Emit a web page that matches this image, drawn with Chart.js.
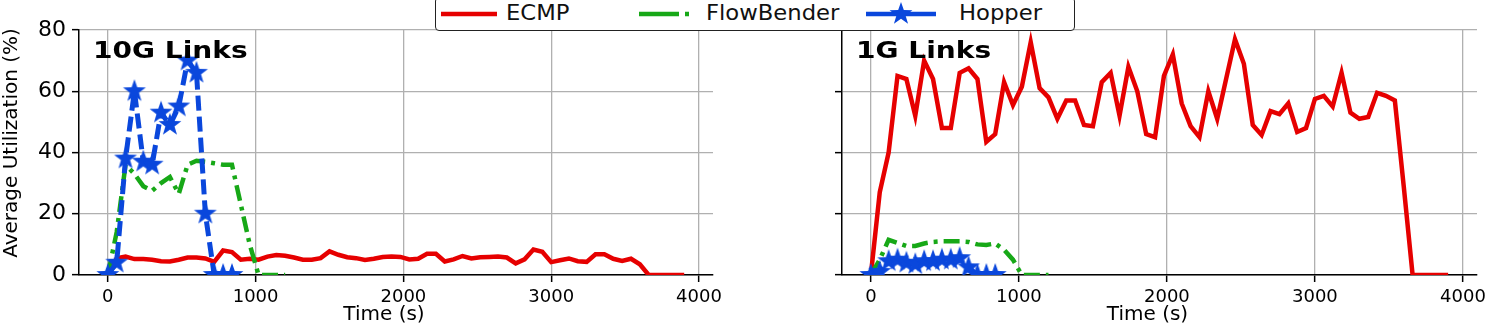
<!DOCTYPE html>
<html>
<head>
<meta charset="utf-8">
<script src="https://cdn.jsdelivr.net/npm/chart.js@4.4.1/dist/chart.umd.min.js"></script>
<style>
  body { margin: 0; background: #fff; width: 1495px; height: 327px; overflow: hidden; position: relative; font-family: 'DejaVu Sans', sans-serif; }
  canvas.plot { position: absolute; top: 0; }
  #legend { position: absolute; left: 435px; top: -3px; width: 638px; height: 32px; border: 1.3px solid #222; border-radius: 4px; background: #fff; }
  #legend canvas { position: absolute; }
  #legend span { position: absolute; top: 3px; font-size: 21px; color: #111; white-space: nowrap; transform-origin: left center; transform: scaleX(1.08); }
</style>
</head>
<body>
<canvas id="left" class="plot" width="730" height="327" style="left:0"></canvas>
<canvas id="right" class="plot" width="735" height="327" style="left:760px"></canvas>
<div id="legend">
  <canvas id="lgEcmp" width="56" height="30" style="left:5px;top:1px"></canvas>
  <span style="left:70px">ECMP</span>
  <canvas id="lgFlow" width="56" height="30" style="left:203px;top:1px"></canvas>
  <span style="left:270px">FlowBender</span>
  <canvas id="lgHop" width="70" height="30" style="left:430px;top:1px"></canvas>
  <span style="left:523px">Hopper</span>
</div>
<script>
// time axis (s)
const times = [0, 60, 120, 180, 240, 300, 360, 420, 480, 540, 600, 660, 720, 780, 840, 900, 960, 1020, 1080, 1140,
  1200, 1260, 1320, 1380, 1440, 1500, 1560, 1620, 1680, 1740, 1800, 1860, 1920, 1980, 2040, 2100, 2160, 2220, 2280, 2340,
  2400, 2460, 2520, 2580, 2640, 2700, 2760, 2820, 2880, 2940, 3000, 3060, 3120, 3180, 3240, 3300, 3360, 3420, 3480, 3540,
  3600, 3660, 3720, 3780, 3840, 3900];
const flowTimes = [0, 60, 120, 180, 240, 300, 360, 420, 480, 540, 600, 660, 720, 780, 840, 900, 960, 1020, 1080, 1140, 1200];
const hopperTimes = [0, 60, 120, 180, 240, 300, 360, 420, 480, 540, 600, 660, 720, 780, 840];

// 10G links
const ecmp10G = [0, 5.5, 6, 5.2, 5.2, 5.0, 4.5, 4.4, 5.0, 5.7, 5.7, 5.4, 4.3, 8.0, 7.5, 5.0, 5.3, 5.0, 6.0, 6.5,
  6.3, 5.7, 5.0, 5.0, 5.5, 7.7, 6.6, 5.8, 5.5, 4.9, 5.3, 5.9, 6.0, 5.9, 5.1, 5.3, 6.9, 6.9, 4.4, 5.1,
  6.2, 5.4, 5.8, 5.9, 6.0, 5.7, 3.8, 5.1, 8.3, 7.6, 4.2, 4.8, 5.4, 4.5, 4.3, 6.8, 6.8, 5.3, 4.6, 5.3,
  3.5, 0, 0, 0, 0, 0];
const flowBender10G = [0, 14, 36, 33, 29, 27.5, 30, 32, 26.5, 36, 37.3, 37, 36.5, 36, 36, 23, 10, 0, 0, 0, 0];
const hopper10G = [0, 4, 38, 60, 37, 36, 53, 49, 55, 70, 66, 20, 0, 0, 0];

// 1G links
const ecmp1G = [0, 27, 40, 65, 64, 52, 70, 64, 48, 48, 66, 67.5, 64, 43.5, 46, 63, 55.5, 61.5, 76, 61,
  58, 51, 57, 57, 49, 48.6, 63, 66, 52, 68, 60, 46, 45, 65, 72, 56, 48.6, 45, 60, 51,
  64, 77, 69, 49, 45.7, 53.5, 52.5, 56, 46.7, 48, 57.5, 58.5, 55, 66, 53, 51, 51.6, 59.5, 58.5, 57,
  29, 0, 0, 0, 0, 0];
const flowBender1G = [0, 5, 11.5, 10.5, 9.5, 9.5, 10.3, 10.8, 11, 11, 11, 10.8, 10, 9.8, 10.3, 8.2, 5, 0, 0, 0, 0];
const hopper1G = [0, 1, 4.5, 5, 4, 3.5, 4.5, 4.5, 5, 5, 5.5, 2.5, 0, 0, 0];

const xTicks = [0, 1000, 2000, 3000, 4000];
const yTicks = [0, 20, 40, 60, 80];

const RED = '#e60000';
const GREEN = '#17a817';
const BLUE = '#0a47dc';
const FONT = "'DejaVu Sans', sans-serif";

// filled five-point star used as the Hopper marker
function makeStar(r, color) {
  const s = Math.ceil(r * 2 + 2);
  const c = document.createElement('canvas');
  c.width = s; c.height = s;
  const g = c.getContext('2d');
  g.fillStyle = color;
  g.beginPath();
  for (let i = 0; i < 10; i++) {
    const rad = i % 2 ? r * 0.4 : r;
    const a = -Math.PI / 2 + i * Math.PI / 5;
    g.lineTo(s / 2 + rad * Math.cos(a), s / 2 + rad * Math.sin(a));
  }
  g.closePath();
  g.fill();
  return c;
}
const star = makeStar(12, BLUE);

function pts(xs, ys) {
  return xs.map((x, i) => ({x: x, y: ys[i]}));
}

// panel label inside the plot + axis titles
const panelText = {
  id: 'panelText',
  afterDraw(chart, args, opts) {
    const c = chart.ctx;
    const area = chart.chartArea;
    c.save();
    c.fillStyle = '#000';
    // "10G Links" / "1G Links"
    c.save();
    c.font = 'bold 23px ' + FONT;
    c.textBaseline = 'alphabetic';
    c.translate(area.left + 14, 58);
    c.scale(1.22, 1);
    c.fillText(opts.text, 0, 0);
    c.restore();
    // x title
    c.font = '20px ' + FONT;
    c.textAlign = 'center';
    c.textBaseline = 'middle';
    c.fillText('Time (s)', (area.left + area.right) / 2 - 12, 315);
    if (opts.yTitle) {
      c.translate(12, 143);
      c.rotate(-Math.PI / 2);
      c.font = '20px ' + FONT;
      c.fillText(opts.yTitle, 0, 0);
    }
    c.restore();
  }
};

function makeChart(id, title, ecmp, flow, hop, isLeft) {
  const ctx = document.getElementById(id).getContext('2d');
  return new Chart(ctx, {
    type: 'line',
    data: {
      datasets: [
        {label: 'ECMP', data: pts(times, ecmp), borderColor: RED, borderWidth: 4.5,
          pointRadius: 0, order: 3, clip: 0},
        {label: 'FlowBender', data: pts(flowTimes, flow), borderColor: GREEN, borderWidth: 4.5,
          borderDash: [16, 6, 4, 6], pointRadius: 0, order: 2, clip: 0},
        {label: 'Hopper', data: pts(hopperTimes, hop), borderColor: BLUE, borderWidth: 5,
          borderDash: [15, 6], pointStyle: star, pointRadius: 12, order: 1, clip: 0}
      ]
    },
    options: {
      responsive: false,
      animation: false,
      devicePixelRatio: 1,
      layout: {padding: {top: 30, right: isLeft ? 15 : 18, left: 0, bottom: 0}},
      plugins: {
        legend: {display: false}, tooltip: {enabled: false},
        panelText: {text: title, yTitle: isLeft ? 'Average Utilization (%)' : ''}
      },
      elements: {line: {tension: 0, borderCapStyle: 'butt'}},
      scales: {
        x: {
          type: 'linear', min: -195, max: 4095,
          afterBuildTicks: s => { s.ticks = xTicks.map(v => ({value: v})); },
          afterFit: s => { s.height = 52; },
          ticks: {font: {family: FONT, size: 18}, color: '#000', padding: 5, maxRotation: 0,
            callback: v => String(v)},
          grid: {color: '#b0b0b0', lineWidth: 1.3, tickColor: '#000', tickLength: 7, tickWidth: 1.5},
          border: {color: '#000', width: 1.5}
        },
        y: {
          min: 0, max: 80,
          afterBuildTicks: s => { s.ticks = yTicks.map(v => ({value: v})); },
          afterFit: s => { s.width = isLeft ? 79 : 82; },
          ticks: {font: {family: FONT, size: 22}, color: '#000', padding: 6,
            callback: v => isLeft ? String(v) : ''},
          grid: {color: '#b0b0b0', lineWidth: 1.3, tickColor: '#000', tickLength: 7, tickWidth: 1.5},
          border: {color: '#000', width: 1.5}
        }
      }
    },
    plugins: [panelText]
  });
}

makeChart('left', '10G Links', ecmp10G, flowBender10G, hopper10G, true);
makeChart('right', '1G Links', ecmp1G, flowBender1G, hopper1G, false);

// legend samples
function sample(id, color, dash, withStar) {
  const c = document.getElementById(id);
  const g = c.getContext('2d');
  g.strokeStyle = color;
  g.lineWidth = 4.5;
  g.setLineDash(dash);
  g.beginPath();
  g.moveTo(0, 15);
  g.lineTo(c.width, 15);
  g.stroke();
  if (withStar) g.drawImage(star, c.width / 2 - star.width / 2, 15 - star.height / 2);
}
sample('lgEcmp', RED, [], false);
sample('lgFlow', GREEN, [40, 6, 4, 6], false);
sample('lgHop', BLUE, [], true);
</script>
</body>
</html>
